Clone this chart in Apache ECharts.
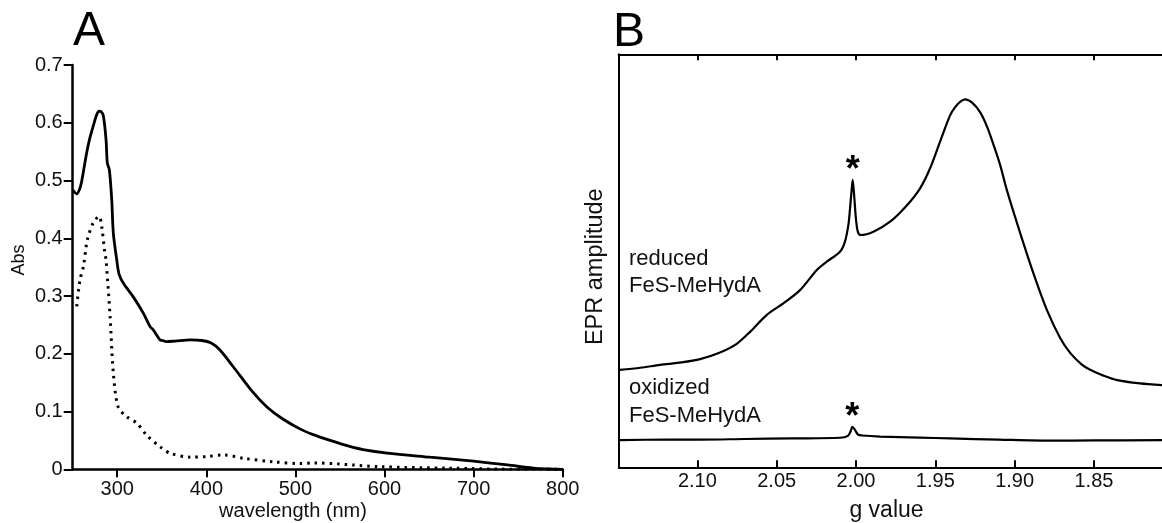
<!DOCTYPE html>
<html>
<head>
<meta charset="utf-8">
<script src="https://cdn.jsdelivr.net/npm/echarts@6/dist/echarts.min.js"></script>
<style>
html,body{margin:0;padding:0;background:#fff;}
#chart{width:1162px;height:523px;}
</style>
</head>
<body>
<div id="chart"></div>
<script>
// ---- Panel A: UV-vis absorbance ----
const solidWavelength = [250,254.5,258,260,262,265.7,269,273,276.5,279.5,282,284.4,287.4,288.9,291.1,293.8,295.6,299.4,302,306.9,317.8,329.4,336.9,340.6,348,351,355,365,382,395,405,415,430,452,468,485,505,520,539,560,576,603,651,700,738,767,785,800];
const solidAbs       = [0.484,0.477,0.486,0.498,0.515,0.548,0.572,0.594,0.612,0.620,0.619,0.612,0.571,0.530,0.519,0.467,0.409,0.363,0.338,0.322,0.299,0.270,0.247,0.241,0.224,0.223,0.221,0.222,0.224,0.223,0.219,0.207,0.178,0.134,0.108,0.088,0.070,0.060,0.050,0.040,0.034,0.028,0.021,0.014,0.0075,0.002,0.0005,0];
const dottedWavelength = [254.5,258.2,262,266.4,273.1,279.5,282.6,286,287.4,292,295.6,301,310.7,322,333,348,359,382,400,419,442,475,505,520,595,670,760,800];
const dottedAbs        = [0.282,0.328,0.351,0.397,0.427,0.438,0.420,0.375,0.363,0.264,0.167,0.108,0.091,0.080,0.059,0.039,0.028,0.021,0.022,0.025,0.019,0.013,0.010,0.011,0.0045,0.002,0.0,0];
const wavelengthTicks = [300,400,500,600,700,800];

// ---- Panel B: EPR spectra ----
const reducedG   = [2.149,2.136,2.1235,2.1100,2.0983,2.0857,2.0752,2.0668,2.0562,2.0458,2.0353,2.0247,2.0184,2.0101,2.0070,2.0048,2.0038,2.0029,2.0021,2.0012,2.0000,1.9988,1.9970,1.9890,1.9785,1.9680,1.9596,1.9533,1.9470,1.9407,1.9375,1.9344,1.9312,1.9268,1.9218,1.9174,1.9134,1.9092,1.9049,1.8965,1.8882,1.8797,1.8713,1.8650,1.8580,1.8524,1.8440,1.8354,1.8210,1.8071];
const reducedAmp = [23.6,24.1,24.8,25.4,26.2,27.8,29.9,32.8,36.9,39.7,42.9,47.8,49.8,52.2,54.6,58.7,62.5,66.5,69.6,66.0,60.0,57.0,56.25,57.05,59.46,63.4,67.55,72.4,78.85,85.2,87.2,88.5,89.1,88.3,86.0,82.5,78.2,73.3,67.1,56.7,47.0,38.1,31.3,27.7,25.0,23.6,22.2,21.1,20.3,19.9];
const oxidizedG   = [2.149,2.120,2.0983,2.070,2.0398,2.0101,2.0051,2.0035,2.0023,2.0006,1.9987,1.9962,1.9848,1.960,1.9408,1.910,1.8778,1.850,1.8071];
const oxidizedAmp = [6.6,6.7,6.7,6.85,7.0,7.15,7.6,8.6,9.8,9.0,7.9,7.7,7.45,7.2,7.0,6.7,6.45,6.5,6.6];
const gTicks = [2.10,2.05,2.00,1.95,1.90,1.85];
const reducedStar  = [2.0021, 69.6];
const oxidizedStar = [2.0023, 9.8];

const zip = (a, b) => a.map((v, i) => [v, b[i]]);
const FONT = "'Liberation Sans', Arial, Helvetica, sans-serif";

const chart = echarts.init(document.getElementById('chart'), null, {renderer: 'canvas'});

const starLabel = {
  show: true, formatter: '*', position: 'inside', offset: [0, -9],
  fontSize: 36, fontWeight: 'bold', color: '#000', fontFamily: FONT
};

chart.setOption({
  animation: false,
  backgroundColor: '#fff',
  grid: [
    {left: 72.7, top: 65, width: 490, height: 404.3},
    {left: 618.7, top: 54.3, right: 0, height: 413}
  ],
  xAxis: [
    {
      type: 'value', gridIndex: 0, min: 250, max: 800,
      axisLine: {show: true, onZero: false, lineStyle: {color: '#000', width: 2.5}},
      axisTick: {show: true, inside: false, length: 8, customValues: wavelengthTicks, lineStyle: {color: '#000', width: 2}},
      axisLabel: {show: true, customValues: wavelengthTicks, margin: 10, color: '#111', fontSize: 20, fontFamily: FONT},
      splitLine: {show: false}
    },
    {
      type: 'value', gridIndex: 1, min: 1.8071, max: 2.1496, inverse: true, position: 'bottom',
      axisLine: {show: true, onZero: false, lineStyle: {color: '#000', width: 2}},
      axisTick: {show: true, inside: true, length: 7, customValues: gTicks, lineStyle: {color: '#000', width: 2}},
      axisLabel: {show: true, customValues: gTicks, margin: 4, color: '#111', fontSize: 20, fontFamily: FONT,
                  formatter: v => Number(v).toFixed(2)},
      splitLine: {show: false}
    },
    {
      type: 'value', gridIndex: 1, min: 1.8071, max: 2.1496, inverse: true, position: 'top',
      axisLine: {show: true, onZero: false, lineStyle: {color: '#000', width: 2}},
      axisTick: {show: true, inside: true, length: 6, customValues: gTicks, lineStyle: {color: '#000', width: 2}},
      axisLabel: {show: false},
      splitLine: {show: false}
    }
  ],
  yAxis: [
    {
      type: 'value', gridIndex: 0, min: 0, max: 0.7, interval: 0.1,
      axisLine: {show: true, onZero: false, lineStyle: {color: '#000', width: 2.5}},
      axisTick: {show: true, inside: false, length: 9, lineStyle: {color: '#000', width: 2}},
      axisLabel: {show: true, margin: 10, color: '#111', fontSize: 20, fontFamily: FONT,
                  formatter: v => (v === 0 ? '0' : v.toFixed(1))},
      splitLine: {show: false}
    },
    {
      type: 'value', gridIndex: 1, min: 0, max: 100,
      axisLine: {show: true, onZero: false, lineStyle: {color: '#000', width: 2}},
      axisTick: {show: false},
      axisLabel: {show: false},
      splitLine: {show: false}
    }
  ],
  series: [
    {
      name: 'reduced UV', type: 'line', xAxisIndex: 0, yAxisIndex: 0,
      data: zip(solidWavelength, solidAbs), showSymbol: false, smooth: 0.3,
      lineStyle: {color: '#000', width: 2.8}
    },
    {
      name: 'apo UV', type: 'line', xAxisIndex: 0, yAxisIndex: 0,
      data: zip(dottedWavelength, dottedAbs), showSymbol: false, smooth: 0.3,
      lineStyle: {color: '#000', width: 3, type: [2.5, 5]}
    },
    {
      name: 'reduced FeS-MeHydA', type: 'line', xAxisIndex: 1, yAxisIndex: 1,
      data: zip(reducedG, reducedAmp), showSymbol: false, smooth: 0.3,
      lineStyle: {color: '#000', width: 2.2},
      markPoint: {symbol: 'circle', symbolSize: 1, itemStyle: {color: 'rgba(0,0,0,0)'},
                  label: starLabel, data: [{coord: reducedStar}]}
    },
    {
      name: 'oxidized FeS-MeHydA', type: 'line', xAxisIndex: 1, yAxisIndex: 1,
      data: zip(oxidizedG, oxidizedAmp), showSymbol: false, smooth: 0.3,
      lineStyle: {color: '#000', width: 2.2},
      markPoint: {symbol: 'circle', symbolSize: 1, itemStyle: {color: 'rgba(0,0,0,0)'},
                  label: starLabel, data: [{coord: oxidizedStar}]}
    }
  ],
  graphic: [
    {type: 'text', x: 73, y: 31.7, style: {text: 'A', fontSize: 48, fontFamily: FONT, fill: '#000', textAlign: 'left', textVerticalAlign: 'middle'}},
    {type: 'text', x: 613, y: 33, style: {text: 'B', fontSize: 48, fontFamily: FONT, fill: '#000', textAlign: 'left', textVerticalAlign: 'middle'}},
    {type: 'text', x: 18.8, y: 260, rotation: Math.PI / 2, style: {text: 'Abs', fontSize: 18, fontFamily: FONT, fill: '#111', textAlign: 'center', textVerticalAlign: 'middle'}},
    {type: 'text', x: 293, y: 511, style: {text: 'wavelength (nm)', fontSize: 20, fontFamily: FONT, fill: '#111', textAlign: 'center', textVerticalAlign: 'middle'}},
    {type: 'text', x: 596, y: 266.7, rotation: Math.PI / 2, style: {text: 'EPR amplitude', fontSize: 23.5, fontFamily: FONT, fill: '#111', textAlign: 'center', textVerticalAlign: 'middle'}},
    {type: 'text', x: 886.5, y: 510.7, style: {text: 'g value', fontSize: 23, fontFamily: FONT, fill: '#111', textAlign: 'center', textVerticalAlign: 'middle'}},
    {type: 'text', x: 629, y: 259, style: {text: 'reduced', fontSize: 22, fontFamily: FONT, fill: '#111', textAlign: 'left', textVerticalAlign: 'middle'}},
    {type: 'text', x: 629, y: 285.7, style: {text: 'FeS-MeHydA', fontSize: 22, fontFamily: FONT, fill: '#111', textAlign: 'left', textVerticalAlign: 'middle'}},
    {type: 'text', x: 629, y: 388.4, style: {text: 'oxidized', fontSize: 22, fontFamily: FONT, fill: '#111', textAlign: 'left', textVerticalAlign: 'middle'}},
    {type: 'text', x: 629, y: 415.7, style: {text: 'FeS-MeHydA', fontSize: 22, fontFamily: FONT, fill: '#111', textAlign: 'left', textVerticalAlign: 'middle'}}
  ]
});
</script>
</body>
</html>
